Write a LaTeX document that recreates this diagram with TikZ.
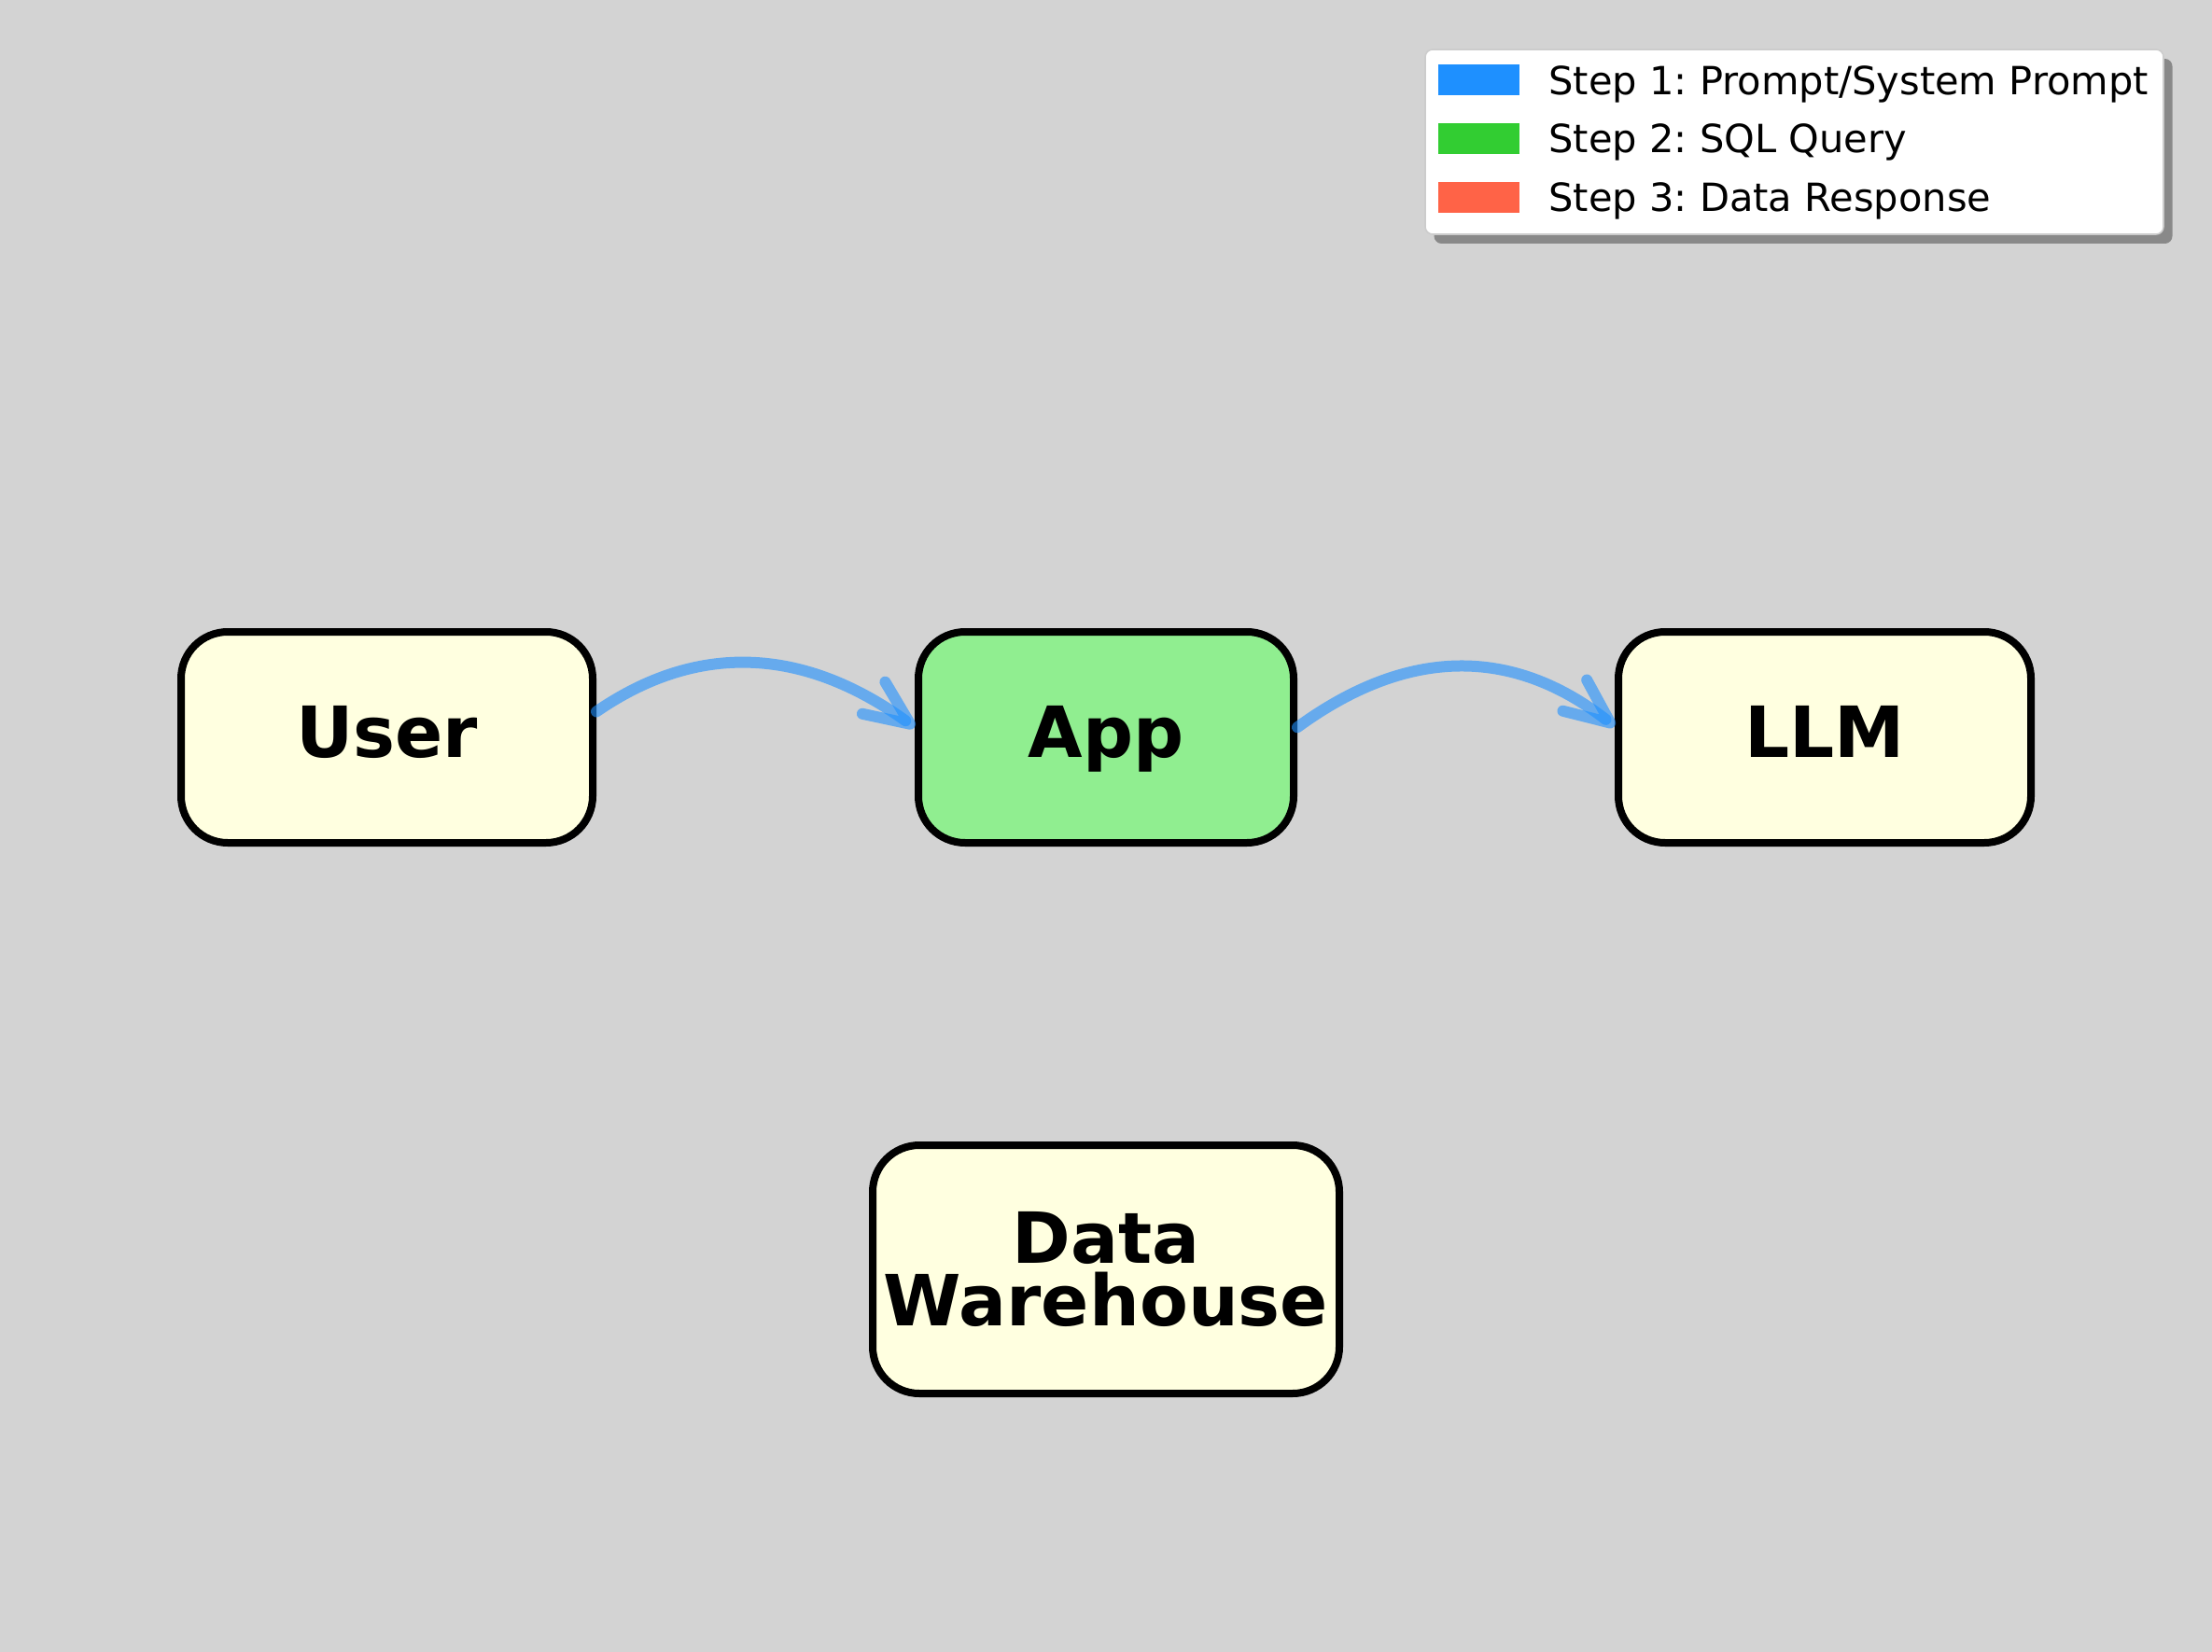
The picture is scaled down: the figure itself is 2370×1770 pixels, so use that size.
\documentclass[tikz,border=0pt]{standalone}
\usepackage{fontspec}
\setmainfont{DejaVu Sans}
\usetikzlibrary{arrows.meta}
\definecolor{bg}{HTML}{D3D3D3}
\definecolor{lyellow}{HTML}{FFFFE0}
\definecolor{lgreen}{HTML}{90EE90}
\definecolor{dblue}{HTML}{1E90FF}
\definecolor{limeg}{HTML}{32CD32}
\definecolor{tomatoc}{HTML}{FF6347}
\definecolor{shadowgray}{HTML}{898989}
\definecolor{legframe}{HTML}{CCCCCC}
\frenchspacing
\begin{document}
\begin{tikzpicture}[x=0.5pt,y=-0.5pt,
  box/.style={draw=black, line width=4pt, rounded corners=25pt, minimum height=113pt,
    inner sep=0pt, font=\fontsize{37.8}{33.5}\selectfont\bfseries, align=center},
  onebox/.style={box, text height=21pt, text depth=0pt},
  flow/.style={draw=dblue, draw opacity=0.6, line width=6pt, line cap=round,
    -{Straight Barb[length=24pt,width=21pt,round]}},
  legpatch/.style={fill=#1, draw=none, minimum width=43.5pt, minimum height=16.5pt, inner sep=0pt},
  legtext/.style={anchor=base west, inner sep=0pt, font=\fontsize{20.8}{25}\selectfont},
  legbox/.style={minimum width=395.5pt, minimum height=99pt, inner sep=0pt, rounded corners=4pt}
]
\fill[bg] (0,0) rectangle (2370,1770);
\useasboundingbox (0,0) rectangle (2370,1770);

% legend
\node[legbox, fill=shadowgray] (legshadow) at (1932,162) {};
\node[legbox, fill=white, draw=legframe, line width=0.8pt] (legend) at (1922.5,152) {};
\node[legpatch=dblue] (p1) at (1584.5,86) {};
\node[legpatch=limeg] (p2) at (1584.5,148.5) {};
\node[legpatch=tomatoc] (p3) at (1584.5,211.5) {};
\node[legtext] (t1) at (1659,101.5) {Step 1: Prompt/System Prompt};
\node[legtext] (t2) at (1659,164) {Step 2: SQL Query};
\node[legtext] (t3) at (1659,227) {Step 3: Data Response};

% boxes
\node[onebox, fill=lyellow, minimum width=220.5pt] (user) at (414.5,790) {User};
\node[onebox, fill=lgreen, minimum width=201pt] (app) at (1185,790) {App};
\node[onebox, fill=lyellow, minimum width=221pt] (llm) at (1955,790) {LLM};
\node[box, fill=lyellow, minimum width=250pt, minimum height=133pt] (dw) at (1185,1360) {Data\\Warehouse};

% arrows
\draw[flow] (user.7) .. controls (747,688) and (860,693) .. (app.177);
\draw[flow] (app.3.4) .. controls (1508,693) and (1620,693) .. (llm.177);
\end{tikzpicture}
\end{document}
